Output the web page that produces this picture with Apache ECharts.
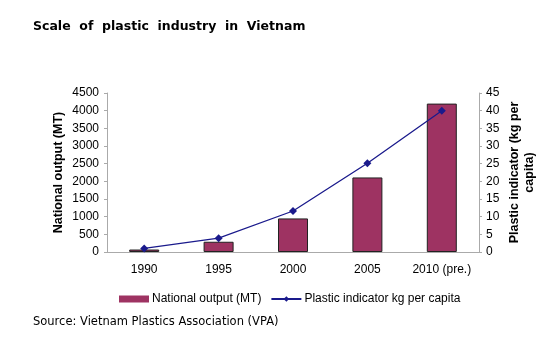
<!DOCTYPE html>
<html>
<head>
<meta charset="utf-8">
<script src="https://cdn.jsdelivr.net/npm/echarts@6/dist/echarts.min.js"></script>
<style>html,body{margin:0;padding:0;background:#fff}#c{width:556px;height:350px}</style>
</head>
<body>
<div id="c"></div>
<script>
const categories = ['1990', '1995', '2000', '2005', '2010 (pre.)'];
const nationalOutput = [70, 290, 950, 2110, 4200];
const plasticIndicator = [1.0, 3.9, 11.6, 25.1, 40.0];
const leftTicks = [0, 500, 1000, 1500, 2000, 2500, 3000, 3500, 4000, 4500];
const rightTicks = [0, 5, 10, 15, 20, 25, 30, 35, 40, 45];

const chart = echarts.init(document.getElementById('c'));
const axisFont = { fontFamily: 'Liberation Sans', fontSize: 12, color: '#000' };
chart.setOption({
  animation: false,
  title: [
    { text: 'Scale  of  plastic  industry  in  Vietnam', left: 33, top: 20, padding: 0,
      textStyle: { fontFamily: 'DejaVu Sans', fontWeight: 'bold', fontSize: 12.5, color: '#000' } },
    { text: 'Source: Vietnam Plastics Association (VPA)', left: 33, top: 316, padding: 0,
      textStyle: { fontFamily: 'DejaVu Sans', fontWeight: 'normal', fontSize: 11.5, color: '#000' } }
  ],
  grid: { left: 107, right: 77, top: 93, bottom: 98 },
  legend: {
    left: 114, top: 288, itemWidth: 30, itemHeight: 7, itemGap: 9,
    textStyle: { fontFamily: 'Liberation Sans', fontSize: 12, color: '#000', padding: [0, 0, 0, -2] },
    data: [
      { name: 'National output (MT)', icon: 'rect', itemStyle: { borderWidth: 0 } },
      { name: 'Plastic indicator kg per capita' }
    ]
  },
  xAxis: {
    type: 'category', data: categories,
    axisLine: { lineStyle: { color: '#aaa' } },
    axisTick: { alignWithLabel: false, length: 4, lineStyle: { color: '#aaa' } },
    axisLabel: Object.assign({ margin: 12, interval: 0 }, axisFont)
  },
  yAxis: [
    { type: 'value', min: 0, max: 4500, interval: 500,
      name: 'National output (MT)', nameLocation: 'middle', nameGap: 42, nameMoveOverlap: false,
      nameTextStyle: { fontFamily: 'Liberation Sans', fontWeight: 'bold', fontSize: 12.5, color: '#000' },
      axisLine: { show: true, lineStyle: { color: '#aaa' } },
      axisTick: { show: true, length: 3, lineStyle: { color: '#aaa' } },
      splitLine: { show: false },
      axisLabel: Object.assign({ margin: 8, formatter: v => String(v) }, axisFont) },
    { type: 'value', min: 0, max: 45, interval: 5, position: 'right',
      name: 'Plastic indicator (kg per\ncapita)', nameLocation: 'middle', nameGap: 28, nameMoveOverlap: false,
      nameTextStyle: { fontFamily: 'Liberation Sans', fontWeight: 'bold', fontSize: 12.5, color: '#000', lineHeight: 15, align: 'center' },
      axisLine: { show: true, lineStyle: { color: '#aaa' } },
      axisTick: { show: true, length: 3, lineStyle: { color: '#aaa' } },
      splitLine: { show: false },
      axisLabel: Object.assign({ margin: 7, formatter: v => String(v) }, axisFont) }
  ],
  series: [
    { name: 'National output (MT)', type: 'bar', data: nationalOutput, barWidth: 30, yAxisIndex: 0,
      itemStyle: { color: '#9E3362', borderColor: '#222', borderWidth: 1 } },
    { name: 'Plastic indicator kg per capita', type: 'line', data: plasticIndicator, yAxisIndex: 1,
      symbol: 'diamond', symbolSize: 8, lineStyle: { color: '#1a1a8c', width: 1.3 },
      itemStyle: { color: '#1a1a8c' } }
  ]
});
</script>
</body>
</html>
